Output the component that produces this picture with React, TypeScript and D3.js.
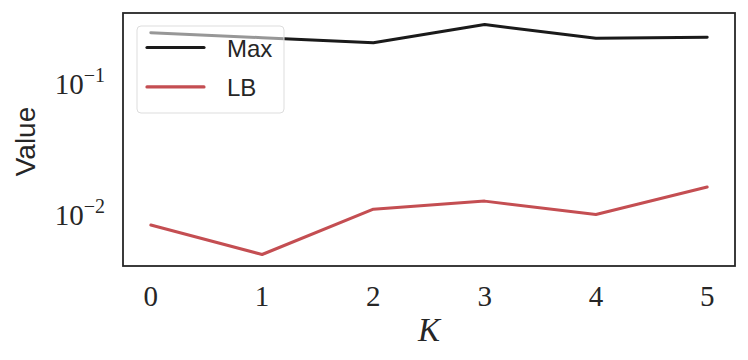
import React, { useEffect, useRef } from "react";
import * as d3 from "d3";

const ks = [0, 1, 2, 3, 4, 5];
const maxValues = [0.248, 0.2275, 0.208, 0.287, 0.225, 0.229];
const lbValues = [0.0084, 0.005, 0.0111, 0.0128, 0.0101, 0.0164];
const seriesNames = ["Max", "LB"];
const seriesColors = ["#1a1a1a", "#c44e52"];
const yTicks = [0.01, 0.1];

const App = () => {
  const svgRef = useRef<SVGSVGElement | null>(null);
  const width = 748;
  const height = 360;
  const margin = { top: 13, right: 13, bottom: 94, left: 123 };

  useEffect(() => {
    const innerWidth = width - margin.left - margin.right;
    const innerHeight = height - margin.top - margin.bottom;

    const svg = d3.select(svgRef.current);
    svg.selectAll("*").remove();

    // matplotlib-like 5% margins (log space for y)
    const xPad = (d3.max(ks)! - d3.min(ks)!) * 0.05;
    const xScale = d3
      .scaleLinear()
      .domain([d3.min(ks)! - xPad, d3.max(ks)! + xPad])
      .range([0, innerWidth]);

    const all = [...maxValues, ...lbValues];
    const lmin = Math.log10(d3.min(all)!);
    const lmax = Math.log10(d3.max(all)!);
    const lpad = (lmax - lmin) * 0.05;
    const yScale = d3
      .scaleLog()
      .domain([Math.pow(10, lmin - lpad), Math.pow(10, lmax + lpad)])
      .range([innerHeight, 0]);

    const g = svg
      .append("g")
      .attr("transform", `translate(${margin.left},${margin.top})`);

    const serif = "'Liberation Serif', 'DejaVu Serif', serif";
    const sans = "'Liberation Sans', 'DejaVu Sans', sans-serif";

    // x tick labels
    g.selectAll(".xt")
      .data(ks)
      .enter()
      .append("text")
      .attr("x", (d) => xScale(d))
      .attr("y", innerHeight + 40)
      .attr("text-anchor", "middle")
      .attr("font-family", serif)
      .attr("font-size", 29)
      .attr("fill", "#262626")
      .text((d) => d);

    // y tick labels: 10^n
    const yt = g
      .selectAll(".yt")
      .data(yTicks)
      .enter()
      .append("text")
      .attr("x", -18)
      .attr("y", (d) => yScale(d) + 10)
      .attr("text-anchor", "end")
      .attr("font-family", serif)
      .attr("font-size", 29)
      .attr("fill", "#262626");
    yt.append("tspan").text("10");
    yt.append("tspan")
      .attr("dy", -12)
      .attr("font-size", 20)
      .text((d) => "\u2212" + Math.round(-Math.log10(d)));

    // axis labels
    g.append("text")
      .attr("transform", `translate(${-88},${innerHeight / 2 + 2}) rotate(-90)`)
      .attr("text-anchor", "middle")
      .attr("font-family", sans)
      .attr("font-size", 28)
      .attr("fill", "#262626")
      .text("Value");

    g.append("text")
      .attr("x", innerWidth / 2)
      .attr("y", innerHeight + 75)
      .attr("text-anchor", "middle")
      .attr("font-family", serif)
      .attr("font-style", "italic")
      .attr("font-size", 33)
      .attr("fill", "#262626")
      .text("K");

    // lines
    const line = d3
      .line<number>()
      .x((_, i) => xScale(ks[i]))
      .y((d) => yScale(d));

    [maxValues, lbValues].forEach((vals, i) => {
      g.append("path")
        .datum(vals)
        .attr("d", line)
        .attr("fill", "none")
        .attr("stroke", seriesColors[i])
        .attr("stroke-width", 3)
        .attr("stroke-linejoin", "round")
        .attr("stroke-linecap", "round");
    });

    // legend
    const lg = g.append("g").attr("transform", "translate(14,13)");
    lg.append("rect")
      .attr("width", 147)
      .attr("height", 87)
      .attr("rx", 4)
      .attr("fill", "white")
      .attr("fill-opacity", 0.55)
      .attr("stroke", "#dddddd")
      .attr("stroke-width", 1);
    seriesNames.forEach((name, i) => {
      const y = 21.5 + i * 39.4;
      lg.append("line")
        .attr("x1", 10)
        .attr("x2", 67)
        .attr("y1", y)
        .attr("y2", y)
        .attr("stroke", seriesColors[i])
        .attr("stroke-width", 3.2)
        .attr("stroke-linecap", "round");
      lg.append("text")
        .attr("x", 90)
        .attr("y", y + 9)
        .attr("font-family", sans)
        .attr("font-size", 24)
        .attr("fill", "#262626")
        .text(name);
    });

    // frame
    g.append("rect")
      .attr("width", innerWidth)
      .attr("height", innerHeight)
      .attr("fill", "none")
      .attr("stroke", "#262626")
      .attr("stroke-width", 1.8);
  }, []);

  return <svg ref={svgRef} width={width} height={height} style={{ display: "block", margin: "-8px" }}></svg>;
};

export default App;
